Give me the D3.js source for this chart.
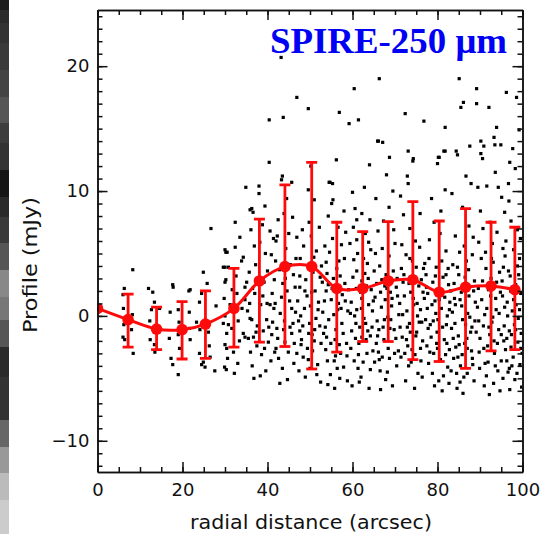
<!DOCTYPE html>
<html>
<head>
<meta charset="utf-8">
<script src="https://cdn.jsdelivr.net/npm/d3@7"></script>
<style>
body { margin: 0; background: #fff; }
svg { display: block; }
</style>
</head>
<body>
<svg id="chart"></svg>
<script>
// binned profile (red)
var profX   = [0, 7.2, 13.9, 19.9, 25.4, 32.1, 38.1, 44.1, 50.4, 56.3, 62.4, 68.4, 74.2, 80.4, 86.6, 92.6, 98.2];
var profY   = [0.6, -0.3, -1.05, -1.1, -0.65, 0.6, 2.8, 3.95, 3.95, 2.2, 2.2, 2.8, 2.9, 1.9, 2.3, 2.4, 2.1];
var errTop  = [null, 1.75, 0.7, 1.15, 2.0, 3.8, 7.75, 10.5, 12.3, 7.5, 6.75, 7.55, 9.15, 7.6, 8.6, 7.5, 7.1];
var errBot  = [null, -2.5, -2.7, -3.45, -3.4, -2.5, -2.1, -2.45, -4.25, -2.9, -2.05, -2.05, -3.5, -3.65, -4.2, -2.8, -2.7];

// individual pixels (black dots), [radius, value]
var dots = [
[6.0,1.7],[6.1,0.6],[6.2,-0.7],[6.0,-1.7],[6.4,-1.9],[8.3,3.7],[8.0,-1.1],[8.4,-3.0],[6.3,2.2],[8.2,0.1],
[12.0,2.2],[13.0,1.9],[13.4,1.1],[12.7,0.5],[13.4,-1.1],[12.4,-1.9],[13.4,-2.3],[13.5,-2.9],[14.6,0.6],[12.3,-0.4],
[17.7,2.5],[17.8,2.3],[17.1,0.3],[19.0,0.5],[19.2,-0.5],[19.0,-1.5],[16.9,-1.8],[17.3,-3.4],[17.7,-3.9],[19.0,-4.7],
[21.8,2.1],[21.6,0.3],[21.6,-1.0],[21.8,-1.9],[21.5,2.0],[19.3,-2.6],
[24.9,3.5],[24.5,1.8],[24.0,1.1],[23.3,-0.5],[24.1,-1.1],[24.0,-3.0],[24.9,-3.7],[25.3,-4.1],[24.5,-3.9],[26.1,-1.3],
[26.7,7.0],[26.3,-2.4],[27.9,0.8],[26.5,-3.3],[25.8,2.6],[27.6,-4.4],
[30.2,5.1],[29.6,3.9],[30.8,3.9],[30.0,2.7],[30.0,0.0],[29.6,-0.6],[30.8,-0.7],[30.4,-1.4],[30.0,-2.3],[30.4,-2.6],
[32.0,-2.9],[32.4,7.5],[30.0,5.3],[30.5,5.1],[32.4,5.5],[30.0,3.9],[30.2,2.9],[29.8,1.4],[31.2,0.9],[30.6,-3.4],
[29.9,-4.1],[30.3,-4.3],[31.6,-1.0],[32.8,1.8],[33.1,-0.4],[32.6,3.2],[33.4,-2.0],[33.9,4.4],[34.3,4.7],[34.3,-1.4],
[34.7,2.3],[34.7,1.3],[35.1,2.7],[34.7,-1.7],[33.0,-3.8],[32.2,-4.6],[34.0,0.6],[31.7,2.1],[33.5,6.3],[34.9,10.3],
[35.5,-1.8],[36.7,-1.7],[36.3,-0.3],[35.9,-0.2],[36.3,8.6],[36.6,8.3],[35.9,8.5],[38.0,10.4],[38.0,9.8],[36.0,-2.9],
[36.4,-4.0],[37.0,1.8],[37.2,4.1],[36.9,5.6],[35.7,3.5],[38.4,0.9],[38.6,-3.1],[38.3,-4.8],[39.8,-0.3],[40.2,-2.1],
[40.6,0.9],[40.6,6.8],[40.4,12.3],[40.4,15.7],[39.2,2.7],[39.5,5.0],[37.5,-2.4],[36.1,6.9],[37.8,3.0],[39.0,-1.2],
[40.0,3.6],[40.8,-3.6],[39.6,-4.4],[38.8,7.3],[37.6,-0.8],[35.8,1.0],[38.2,5.9],[40.9,4.9],[39.4,8.8],[36.8,-5.0],
[41.5,0.6],[41.8,1.0],[41.4,6.2],[42.0,6.0],[42.3,6.4],[43.3,10.9],[43.5,11.2],[43.3,1.5],[43.5,-4.2],[43.2,20.7],
[43.7,15.9],[42.2,-1.0],[42.0,-2.6],[42.8,3.7],[41.9,4.4],[44.0,-0.4],[44.6,2.0],[44.9,-2.9],[45.7,0.6],[45.7,-1.4],
[45.7,10.7],[45.9,7.9],[46.9,6.3],[46.9,17.5],[46.9,-3.0],[46.2,-3.8],[45.4,4.1],[44.3,5.4],[42.6,-3.4],[41.2,-0.5],
[43.9,8.2],[44.7,-5.1],[46.5,2.3],[45.2,1.2],[41.6,2.9],[42.9,-5.4],[44.2,3.0],[46.0,-0.6],[41.0,-1.5],[43.0,0.2],
[45.0,6.6],[46.7,4.6],[44.5,9.4],[42.5,7.7],[46.3,-2.2],
[47.6,2.3],[47.8,0.0],[47.6,-1.2],[47.9,-2.3],[47.3,-0.4],[48.0,-1.9],[47.7,4.6],[47.6,3.2],[48.4,-3.3],[49.6,-3.5],
[49.6,16.6],[49.6,10.1],[49.8,7.5],[50.3,6.4],[51.0,9.3],[51.0,-2.0],[50.6,-2.8],[50.0,-4.2],[48.9,-4.9],[49.3,1.6],
[50.1,0.8],[49.0,2.9],[50.7,3.5],[51.5,5.2],[52.0,1.1],[52.3,-0.8],[51.8,-3.9],[52.5,-5.3],[48.5,5.6],[49.9,-0.6],
[51.2,2.0],[52.7,4.0],[48.2,6.9],[50.5,-1.5],[51.6,-4.7],[52.9,2.7],[49.4,-2.6],[52.2,7.1],[50.9,4.7],[48.7,0.6],
[51.4,-0.2],[52.6,-2.2],[47.4,-4.4],[53.0,0.3],[50.2,12.0],
[53.8,4.3],[54.0,3.4],[54.3,2.5],[53.8,2.0],[53.6,-0.9],[53.9,-1.7],[53.7,-2.7],[54.1,-3.6],[54.3,8.0],[54.5,10.7],
[55.3,10.6],[54.7,10.7],[55.1,9.0],[55.4,9.3],[56.9,16.3],[56.0,-3.2],[56.4,-4.2],[57.0,-5.0],[56.7,1.0],[55.6,0.1],
[56.3,3.8],[57.4,5.7],[57.8,-1.4],[58.2,2.6],[58.6,-2.2],[58.1,4.6],[55.3,6.2],[56.1,-1.1],[57.2,-3.0],[58.9,0.4],
[55.8,-5.8],[54.8,-4.7],[57.6,1.7],[58.4,6.7],[55.0,1.3],[56.6,7.1],[57.9,-4.1],[54.6,5.1],[58.8,-5.2],[56.9,-2.3],
[55.5,3.0],[57.3,0.6],[54.2,-5.5],[58.0,8.4],[56.2,12.5],
[59.2,15.4],[60.4,18.2],[61.4,15.7],[60.0,9.9],[60.6,8.6],[62.2,8.2],[61.0,7.7],[64.1,7.7],[61.0,6.1],[61.2,5.0],
[61.0,3.6],[62.2,2.8],[62.2,1.4],[61.0,0.5],[60.8,-0.6],[62.2,-1.7],[63.2,-1.9],[63.4,-3.0],[64.2,-4.3],[62.0,-4.9],
[60.4,-3.6],[59.6,-2.6],[59.7,1.1],[60.1,3.1],[63.5,4.2],[64.4,2.1],[63.8,0.9],[64.6,-0.9],[59.9,-5.6],[61.6,-5.3],
[63.0,6.6],[62.7,-0.2],[60.3,4.5],[64.8,-2.8],[59.4,5.8],[63.9,-5.8],[61.9,1.9],[62.9,3.4],[60.7,-1.8],[64.3,5.3],
[59.5,0.2],[61.4,-3.1],[63.6,-1.2],[62.5,-3.7],[64.9,1.2],[60.2,7.1],[62.8,10.3],[64.0,12.1],[61.7,-0.9],[63.3,2.4],
[66.3,19.0],[66.1,14.0],[67.1,13.9],[68.7,12.7],[68.0,11.3],[65.5,9.4],[68.6,8.7],[65.9,14.0],[66.0,6.8],[67.0,5.4],
[66.4,4.0],[65.7,2.6],[65.3,1.5],[66.8,0.7],[67.5,-0.3],[66.2,-1.1],[65.6,-2.2],[67.0,-3.3],[66.5,-4.4],[67.8,-5.1],
[68.4,-2.6],[68.8,-1.0],[69.2,0.8],[68.1,2.2],[69.6,3.6],[70.0,5.8],[70.4,-4.0],[69.9,-3.0],[70.6,1.6],[70.2,-1.8],
[68.6,4.8],[67.3,7.6],[65.2,-3.7],[69.4,-5.6],[66.9,2.9],[70.9,0.1],[65.8,-0.4],[67.7,1.3],[69.0,-0.3],[68.2,-4.5],
[70.5,3.0],[66.6,-5.9],[69.7,6.9],[67.4,-1.9],[65.4,5.0],[70.8,-2.8],[68.9,1.9],[66.1,-2.9],[69.5,10.0],[67.9,3.3],
[72.4,16.2],[73.1,13.2],[74.3,12.6],[72.9,11.2],[73.1,10.6],[74.2,12.4],[76.8,15.6],[76.8,21.3],[72.0,8.1],[73.5,7.0],
[74.8,6.0],[72.6,4.9],[71.5,3.8],[73.9,3.1],[75.6,2.4],[72.2,1.6],[74.4,0.9],[71.8,0.1],[73.4,-0.6],[75.1,-1.3],
[72.7,-1.9],[74.0,-2.7],[71.4,-3.3],[73.2,-4.0],[75.4,-4.6],[72.5,-5.2],[76.1,-3.6],[76.5,-2.0],[76.0,0.5],[76.7,3.8],
[75.8,5.5],[71.2,-0.9],[74.6,-5.8],[73.7,1.9],[76.3,-0.5],[71.9,2.7],[75.0,3.9],[72.3,-3.0],[74.9,-1.6],[76.9,1.4],
[71.6,5.7],[73.0,-2.4],[75.3,0.0],[74.1,4.4],[76.4,-4.9],[72.8,0.4],[75.9,8.2],[71.3,9.6],[73.8,-3.7],[76.2,2.9],
[80.2,12.7],[81.8,15.1],[81.8,13.2],[80.4,12.7],[81.5,13.2],[80.0,12.2],[81.8,10.1],[78.6,9.4],[79.2,7.5],[80.6,6.6],
[82.0,5.2],[78.0,4.6],[79.7,3.9],[81.3,3.1],[82.6,2.5],[77.7,1.8],[79.4,1.2],[80.9,0.6],[82.3,0.0],[78.3,-0.7],
[79.9,-1.3],[81.6,-1.9],[77.5,-2.4],[79.1,-3.0],[80.7,-3.5],[82.4,-4.1],[78.8,-4.6],[80.3,-5.2],[81.1,-6.0],[82.8,-2.7],
[77.3,3.3],[78.5,-1.7],[82.1,-0.7],[79.6,0.2],[81.0,4.4],[77.9,-3.8],[80.5,2.0],[82.9,1.1],[78.1,6.1],[79.8,-2.2],
[81.4,-4.8],[77.6,0.6],[80.1,-0.3],[82.5,3.8],[78.9,2.7],[81.9,-3.1],[79.3,-5.6],[80.8,8.4],[82.7,-5.4],[77.8,-1.0],
[84.4,13.2],[85.1,19.0],[85.3,21.8],[85.5,16.7],[86.1,17.1],[87.6,13.6],[84.7,12.9],[86.7,11.2],[83.4,9.8],[85.9,8.7],
[87.4,7.2],[84.2,6.4],[86.3,5.6],[88.2,4.9],[83.6,4.1],[85.0,3.3],[86.8,2.6],[88.5,2.0],[84.0,1.4],[85.7,0.8],
[87.1,0.2],[88.8,-0.4],[83.3,-1.0],[84.9,-1.6],[86.4,-2.2],[88.0,-2.8],[83.8,-3.4],[85.4,-4.0],[87.0,-4.6],[88.6,-5.2],
[84.6,-5.8],[86.0,-6.2],[87.8,-1.3],[83.9,2.6],[86.6,-0.7],[85.2,5.1],[88.3,-3.9],[84.3,-2.5],[87.3,3.7],[85.8,-3.1],
[83.5,0.3],[88.9,1.1],[86.2,-4.9],[84.7,3.9],[87.6,-0.1],[85.6,1.9],[83.2,-4.4],[88.4,6.3],[86.9,-1.8],[84.1,-0.6],
[87.9,10.6],[85.3,-5.3],
[89.2,18.2],[89.2,17.0],[90.2,14.0],[90.2,13.0],[90.9,13.6],[92.1,16.7],[93.3,14.3],[93.9,15.1],[93.5,13.7],[94.9,13.7],
[90.6,12.6],[89.5,10.3],[91.6,10.4],[94.3,10.3],[95.1,9.5],[90.1,8.4],[92.4,7.5],[94.0,6.7],[89.7,5.9],[91.3,5.1],
[93.1,4.3],[94.6,3.5],[90.6,2.8],[92.0,2.1],[93.7,1.4],[89.4,0.7],[91.1,0.1],[92.8,-0.5],[94.4,-1.1],[90.0,-1.8],
[91.8,-2.4],[93.4,-3.0],[95.0,-3.6],[89.9,-4.2],[91.5,-4.8],[93.2,-5.4],[94.7,-6.0],[90.8,-0.8],[92.6,3.0],[94.1,-2.2],
[89.6,2.2],[91.9,-3.7],[93.8,0.5],[90.3,4.6],[92.3,-1.5],[94.8,1.9],[91.0,-5.6],[93.0,-0.1],[89.8,-2.9],[92.9,5.8],
[91.4,3.8],[94.2,-4.4],[90.7,7.0],[93.6,11.5],[92.2,-6.3],
[97.7,13.4],[98.6,17.5],[97.0,12.3],[96.7,10.6],[96.2,17.9],[95.8,8.3],[97.3,7.6],[98.8,6.9],[96.1,6.0],[97.9,5.3],
[99.3,4.6],[95.5,3.9],[97.1,3.2],[98.4,2.5],[99.6,1.8],[96.4,1.1],[97.6,0.4],[99.0,-0.2],[95.7,-0.8],[97.4,-1.5],
[98.9,-2.1],[96.0,-2.7],[97.8,-3.3],[99.4,-3.9],[96.6,-4.5],[98.2,-5.1],[99.8,-5.7],[95.3,1.6],[96.9,-1.2],[98.5,0.9],
[99.9,-3.0],[95.9,4.8],[97.5,-4.0],[99.1,3.3],[96.3,-3.6],[98.1,-0.7],[99.5,6.2],[95.4,-5.0],[97.2,2.0],[98.7,-4.6],
[96.8,9.2],[99.7,-1.4],[95.6,-2.0],[98.3,11.8],[99.2,14.9],[96.5,0.0],[97.0,-5.9],
// denser core of the cloud
[35.3,0.4],[36.5,2.2],[37.3,-1.3],[38.9,1.6],[39.3,-2.6],[40.3,-0.9],[41.1,1.8],[42.4,-1.8],[43.6,2.6],[44.1,-2.1],
[45.3,-0.9],[46.1,3.3],[47.1,1.2],[48.3,-0.8],[48.8,2.0],[49.7,-1.4],[46.6,0.3],[43.8,-1.1],[41.7,-2.9],[39.9,1.0],
[50.4,1.9],[51.1,-1.1],[51.9,0.5],[52.4,3.1],[53.2,-1.4],[53.4,1.2],[54.4,-0.3],[54.9,-2.2],[55.2,2.2],[55.9,-1.9],
[56.5,0.5],[57.1,3.2],[57.5,-0.6],[58.3,1.2],[58.7,-3.2],[59.1,2.1],[59.8,-1.2],[56.8,4.4],[53.5,5.6],[55.7,-3.6],
[60.5,0.0],[60.9,2.2],[61.5,-2.2],[62.1,0.6],[62.6,4.6],[63.1,-0.6],[63.7,3.0],[64.2,-1.6],[64.7,0.4],[65.1,3.6],
[65.9,-1.6],[66.6,1.9],[67.2,-0.9],[67.6,2.4],[68.3,-0.1],[68.7,-3.4],[69.3,1.4],[69.8,-1.1],[70.3,2.3],[66.3,-3.5],
[61.3,-4.2],[63.8,5.9],
[71.1,1.0],[71.7,-1.7],[72.1,3.3],[72.9,-0.9],[73.3,2.6],[73.6,-1.3],[74.3,1.4],[74.7,-3.1],[75.2,1.0],[75.7,-0.5],
[76.0,-2.6],[76.6,1.9],[77.2,-0.3],[77.4,2.3],[78.2,-2.9],[78.7,0.9],[79.0,-0.4],[79.5,3.2],[80.0,-2.6],[80.4,1.3],
[73.5,4.6],[77.0,4.2],
[81.2,-0.9],[81.7,1.5],[82.2,-2.2],[82.8,0.5],[83.1,2.0],[83.7,-1.8],[84.2,0.9],[84.8,-3.3],[85.3,1.3],[85.9,-0.3],
[86.5,3.1],[87.0,-2.6],[87.4,1.6],[88.1,-0.9],[88.7,2.8],[89.1,-1.3],[89.7,-0.4],[86.8,4.4],[84.5,-4.6],[82.0,3.3],
[88.2,-3.4],[85.1,-2.3],
[90.4,1.3],[90.9,-2.6],[91.6,0.6],[92.1,-0.9],[92.5,1.6],[93.3,-2.0],[93.9,2.7],[94.5,0.2],[95.0,-1.5],[95.2,2.8],
[95.8,0.7],[96.3,-1.8],[96.7,3.6],[97.3,-2.5],[97.9,1.3],[98.4,-1.1],[98.8,4.0],[99.3,0.5],[99.6,-2.6],[91.2,-3.8],
[93.6,-4.0],[96.9,-4.2],[95.4,5.4],[92.7,4.6]
];

var xMajor = [0, 20, 40, 60, 80, 100];
var yMajor = [-10, 0, 10, 20];

var width = 543, height = 534;
var margin = {t: 10, r: 20.5, b: 62, l: 97.5};

var svg = d3.select('#chart')
    .attr('width', width)
    .attr('height', height);

svg.append('rect').attr('width', width).attr('height', height).attr('fill', '#fff');

// grey strip on the far left (piece of a neighbouring image)
var stripShades = [['#1c1c1c', 10], ['#2b2b2b', 13], ['#333', 20], ['#3a3a3a', 27], ['#444', 27], ['#555', 26],
    ['#3d3d3d', 20], ['#333', 27], ['#151515', 27], ['#2a2a2a', 20], ['#3a3a3a', 26], ['#555', 27], ['#888', 27],
    ['#777', 23], ['#555', 27], ['#2a2a2a', 30], ['#333', 43], ['#666', 27], ['#999', 26], ['#bbb', 27], ['#ccc', 34]];
var sy = 0;
stripShades.forEach(s => {
    svg.append('rect').attr('x', 0).attr('y', sy).attr('width', 9).attr('height', s[1]).attr('fill', s[0]);
    sy += s[1];
});

var x = d3.scaleLinear().domain([0, 100]).range([margin.l, width - margin.r]);
var y = d3.scaleLinear().domain([-12.5, 24.5]).range([height - margin.b, margin.t]);

svg.append('clipPath').attr('id', 'clip')
    .append('rect')
    .attr('x', x(0)).attr('y', y(24.5))
    .attr('width', x(100) - x(0)).attr('height', y(-12.5) - y(24.5));

var plot = svg.append('g').attr('clip-path', 'url(#clip)');

plot.append('g').selectAll('rect')
    .data(dots)
    .join('rect')
    .attr('x', d => x(d[0]) - 1.6)
    .attr('y', d => y(d[1]) - 1.6)
    .attr('width', 3.2)
    .attr('height', 3.2)
    .attr('fill', '#000');

var prof = profX.map((v, i) => ({x: v, y: profY[i], hi: errTop[i], lo: errBot[i]}));
var red = '#ff0a0a';

var line = d3.line()
    .x(d => x(d.x))
    .y(d => y(d.y))
    .curve(d3.curveCatmullRom);

plot.append('path')
    .datum(prof)
    .attr('d', line)
    .attr('fill', 'none')
    .attr('stroke', red)
    .attr('stroke-width', 3);

var bars = plot.append('g').selectAll('g')
    .data(prof.filter(d => d.hi !== null))
    .join('g')
    .attr('stroke', red)
    .attr('stroke-width', 2.8);
bars.append('line')
    .attr('x1', d => x(d.x)).attr('x2', d => x(d.x))
    .attr('y1', d => y(d.hi)).attr('y2', d => y(d.lo));
bars.append('line')
    .attr('x1', d => x(d.x) - 5.5).attr('x2', d => x(d.x) + 5.5)
    .attr('y1', d => y(d.hi)).attr('y2', d => y(d.hi));
bars.append('line')
    .attr('x1', d => x(d.x) - 5.5).attr('x2', d => x(d.x) + 5.5)
    .attr('y1', d => y(d.lo)).attr('y2', d => y(d.lo));

plot.append('g').selectAll('circle')
    .data(prof)
    .join('circle')
    .attr('cx', d => x(d.x))
    .attr('cy', d => y(d.y))
    .attr('r', 5.8)
    .attr('fill', red);

// axes, ticks pointing inwards on all four sides
function styleAxis(g) {
    g.selectAll('path, line').attr('stroke', '#111').attr('stroke-width', 1.5);
    g.selectAll('text')
        .attr('fill', '#111')
        .style('font-family', '"DejaVu Sans", sans-serif')
        .style('font-size', '18px');
}

var bottomY = y(-12.5), topY = y(24.5);

svg.append('g').attr('transform', 'translate(0,' + bottomY + ')')
    .call(d3.axisBottom(x).tickValues(xMajor).tickSize(-10).tickSizeOuter(0).tickPadding(11).tickFormat(d3.format('d')))
    .call(styleAxis);
svg.append('g').attr('transform', 'translate(0,' + bottomY + ')')
    .call(d3.axisBottom(x).tickValues(d3.range(0, 101, 5)).tickSize(-5).tickSizeOuter(0).tickFormat(''))
    .call(styleAxis);
svg.append('g').attr('transform', 'translate(0,' + topY + ')')
    .call(d3.axisTop(x).tickValues(xMajor).tickSize(-10).tickSizeOuter(0).tickFormat(''))
    .call(styleAxis);
svg.append('g').attr('transform', 'translate(0,' + topY + ')')
    .call(d3.axisTop(x).tickValues(d3.range(0, 101, 5)).tickSize(-5).tickSizeOuter(0).tickFormat(''))
    .call(styleAxis);

svg.append('g').attr('transform', 'translate(' + x(0) + ',0)')
    .call(d3.axisLeft(y).tickValues(yMajor).tickSize(-10).tickSizeOuter(0).tickPadding(8))
    .call(styleAxis);
svg.append('g').attr('transform', 'translate(' + x(0) + ',0)')
    .call(d3.axisLeft(y).tickValues(d3.range(-12, 25, 1)).tickSize(-5).tickSizeOuter(0).tickFormat(''))
    .call(styleAxis);
svg.append('g').attr('transform', 'translate(' + x(100) + ',0)')
    .call(d3.axisRight(y).tickValues(yMajor).tickSize(-10).tickSizeOuter(0).tickFormat(''))
    .call(styleAxis);
svg.append('g').attr('transform', 'translate(' + x(100) + ',0)')
    .call(d3.axisRight(y).tickValues(d3.range(-12, 25, 1)).tickSize(-5).tickSizeOuter(0).tickFormat(''))
    .call(styleAxis);

svg.append('text')
    .text('radial distance (arcsec)')
    .attr('x', 311)
    .attr('y', 529)
    .attr('text-anchor', 'middle')
    .attr('textLength', 242)
    .attr('lengthAdjust', 'spacingAndGlyphs')
    .attr('fill', '#111')
    .style('font-family', '"DejaVu Sans", sans-serif')
    .style('font-size', '19px');

svg.append('text')
    .text('Profile (mJy)')
    .attr('transform', 'rotate(-90,37,265)')
    .attr('x', 37)
    .attr('y', 265)
    .attr('text-anchor', 'middle')
    .attr('textLength', 136)
    .attr('lengthAdjust', 'spacingAndGlyphs')
    .attr('fill', '#111')
    .style('font-family', '"DejaVu Sans", sans-serif')
    .style('font-size', '19px');

svg.append('text')
    .text('SPIRE-250 μm')
    .attr('x', 270)
    .attr('y', 53)
    .attr('textLength', 237)
    .attr('lengthAdjust', 'spacingAndGlyphs')
    .attr('fill', '#0000f5')
    .style('font-family', '"Liberation Serif", "Times New Roman", serif')
    .style('font-weight', 'bold')
    .style('font-size', '36px');
</script>
</body>
</html>
